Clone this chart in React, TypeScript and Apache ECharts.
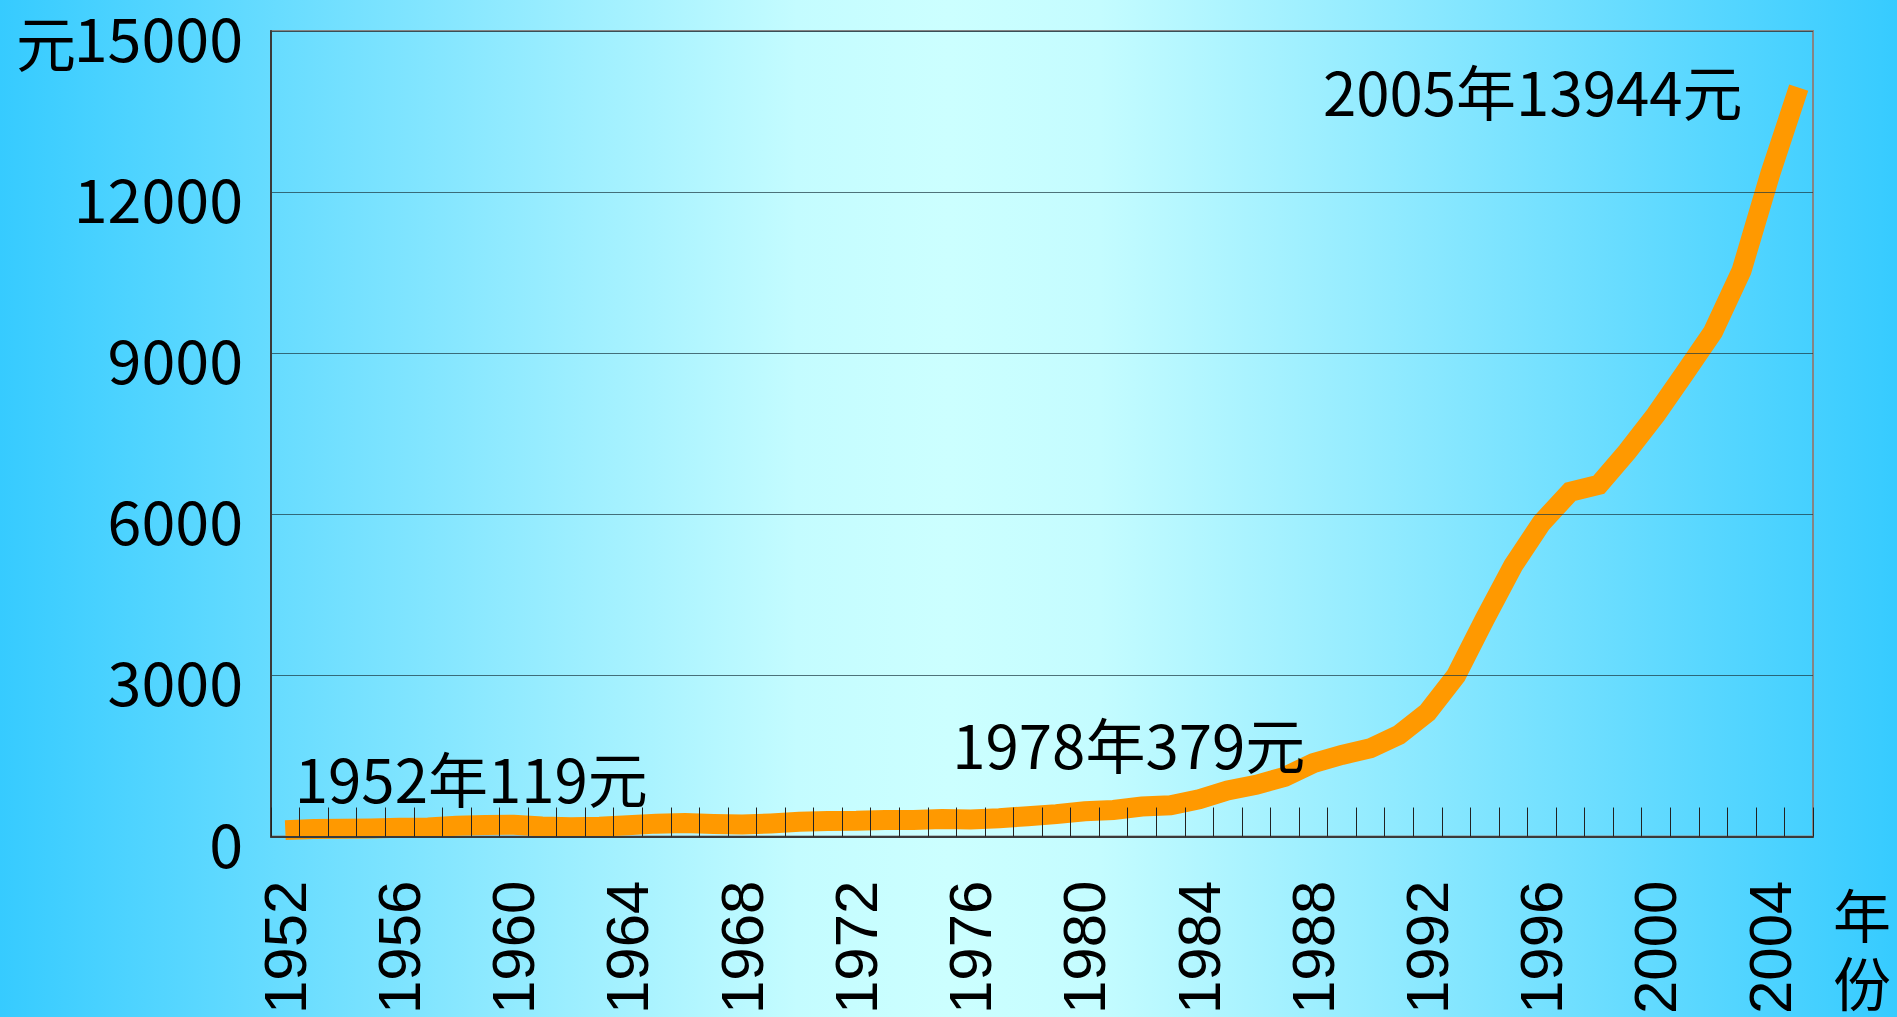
import React, { useEffect, useRef } from "react";
import * as echarts from "echarts";

const years = [
  "1952", "1953", "1954", "1955", "1956", "1957", "1958", "1959", "1960", "1961",
  "1962", "1963", "1964", "1965", "1966", "1967", "1968", "1969", "1970", "1971",
  "1972", "1973", "1974", "1975", "1976", "1977", "1978", "1979", "1980", "1981",
  "1982", "1983", "1984", "1985", "1986", "1987", "1988", "1989", "1990", "1991",
  "1992", "1993", "1994", "1995", "1996", "1997", "1998", "1999", "2000", "2001",
  "2002", "2003", "2004", "2005",
];

const gdpPerCapita = [
  119, 142, 144, 150, 165, 168, 200, 216, 218, 185,
  173, 181, 208, 240, 254, 235, 222, 243, 275, 288,
  292, 309, 310, 327, 316, 339, 379, 417, 470, 495,
  560, 583, 695, 858, 963, 1112, 1366, 1519, 1644, 1893,
  2311, 2998, 4044, 5046, 5846, 6420, 6550, 7170, 7858, 8622,
  9398, 10542, 12336, 13944,
];

const yMin = 0;
const yMax = 15000;
const yStep = 3000;

const annotationYears = ["1952", "1978", "2005"];
const annotationTexts = ["1952年119元", "1978年379元", "2005年13944元"];
const annotationOffsets = [
  [186, -54],
  [101, -74],
  [-266, 2],
];

const yUnit = "元";
const xUnit = "年\n份";

const CJK = '"Noto Sans CJK SC", "Noto Sans CJK JP", sans-serif';
const LATIN = '"Liberation Sans", Arial, sans-serif';

export default function App() {
  const ref = useRef<HTMLDivElement>(null);

  useEffect(() => {
    document.body.style.margin = "0";
    const chart = echarts.init(ref.current as HTMLDivElement, null, { renderer: "svg" });
    const option: any = {
      animation: false,
      backgroundColor: {
        type: "linear",
        x: 0,
        y: 0,
        x2: 1,
        y2: 0,
        colorStops: [
          { offset: 0, color: "#36CBFF" },
          { offset: 0.42, color: "#C4FCFF" },
          { offset: 0.5, color: "#CCFFFF" },
          { offset: 0.58, color: "#C4FCFF" },
          { offset: 1, color: "#36CBFF" },
        ],
      },
      grid: {
        left: 271,
        right: 84,
        top: 31,
        bottom: 179,
        show: true,
        borderColor: "#858585",
        borderWidth: 2,
        backgroundColor: "transparent",
      },
      xAxis: {
        type: "category",
        data: years,
        boundaryGap: true,
        z: 5,
        axisLine: { show: true, lineStyle: { color: "#3a3a3a", width: 2 } },
        axisTick: {
          show: true,
          inside: true,
          interval: 0,
          length: 29,
          alignWithLabel: false,
          lineStyle: { color: "#222", width: 1 },
        },
        axisLabel: {
          interval: 3,
          rotate: 90,
          margin: 44,
          color: "#000",
          fontFamily: LATIN,
          fontSize: 60,
        },
        splitLine: { show: false },
      },
      yAxis: {
        type: "value",
        min: yMin,
        max: yMax,
        interval: yStep,
        z: 5,
        axisLine: { show: true, lineStyle: { color: "#3a3a3a", width: 2 } },
        axisTick: { show: false },
        axisLabel: {
          margin: 28,
          color: "#000",
          fontFamily: CJK,
          fontSize: 61,
          verticalAlign: "top",
          lineHeight: 9,
          formatter: (v: number) => String(v),
        },
        splitLine: { show: true, lineStyle: { color: "rgba(25,55,65,0.7)", width: 1 } },
      },
      series: [
        {
          type: "line",
          data: gdpPerCapita,
          symbol: "none",
          z: 2,
          lineStyle: { color: "#FF9900", width: 20, cap: "butt", join: "miter" },
        },
      ],
    };
    chart.setOption(option);

    const graphics: any[] = annotationYears.map((yr, i) => {
      const idx = years.indexOf(yr);
      const p = chart.convertToPixel({ gridIndex: 0 }, [idx, gdpPerCapita[idx]]) as number[];
      return {
        type: "text",
        x: p[0] + annotationOffsets[i][0],
        y: p[1] + annotationOffsets[i][1],
        z: 10,
        style: {
          text: annotationTexts[i],
          fill: "#000",
          fontFamily: CJK,
          fontSize: 60,
          align: "center",
          verticalAlign: "middle",
        },
      };
    });
    const top = chart.convertToPixel({ gridIndex: 0 }, [0, yMax]) as number[];
    const origin = chart.convertToPixel({ gridIndex: 0 }, [0, yMin]) as number[];
    graphics.push({
      type: "text",
      x: 16,
      y: top[1] + 9,
      z: 10,
      style: {
        text: yUnit,
        fill: "#000",
        fontFamily: CJK,
        fontSize: 60,
        align: "left",
        verticalAlign: "middle",
      },
    });
    graphics.push({
      type: "text",
      x: 1862,
      y: origin[1] + 42,
      z: 10,
      style: {
        text: xUnit,
        fill: "#000",
        fontFamily: CJK,
        fontSize: 58,
        lineHeight: 68,
        align: "center",
        verticalAlign: "top",
      },
    });
    chart.setOption({ graphic: graphics });

    return () => chart.dispose();
  }, []);

  return <div ref={ref} style={{ width: "100vw", height: "100vh" }} />;
}
